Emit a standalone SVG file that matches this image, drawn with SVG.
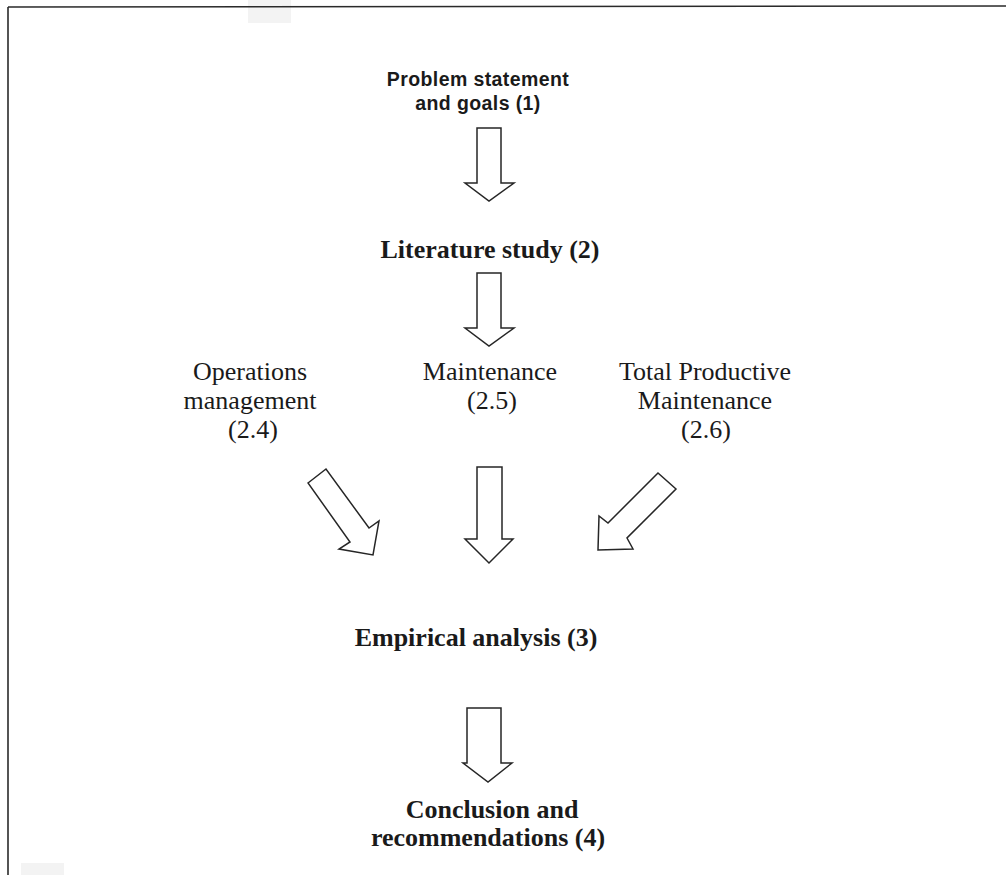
<svg xmlns="http://www.w3.org/2000/svg" width="1006" height="875" viewBox="0 0 1006 875">
  <style>
    .frame { stroke: #2a2a2a; stroke-width: 1.6; fill: none; }
    .arrow { fill: #ffffff; stroke: #262626; stroke-width: 1.5; stroke-linejoin: miter; }
    .sans-b { font-family: "Liberation Sans", Arial, sans-serif; font-weight: bold; font-size: 19.5px; letter-spacing: 0.4px; fill: #1a1a1a; text-anchor: middle; }
    .serif-b { font-family: "Liberation Serif", "Times New Roman", serif; font-weight: bold; font-size: 26px; fill: #1a1a1a; text-anchor: middle; }
    .serif { font-family: "Liberation Serif", "Times New Roman", serif; font-size: 26px; fill: #1a1a1a; text-anchor: middle; }
    .smudge { fill: #f3f3f3; }
  </style>

  <rect width="1006" height="875" fill="#ffffff"/>

  <!-- page frame: top and left edges only -->
  <g id="frame">
    <rect class="smudge" x="248" y="0" width="43" height="23"/>
    <rect class="smudge" x="21" y="863" width="43" height="12"/>
    <line class="frame" x1="8" y1="7" x2="1006" y2="6"/>
    <line class="frame" x1="8" y1="7" x2="8" y2="875"/>
  </g>

  <g id="node-problem">
    <text class="sans-b" x="478" y="86">Problem statement</text>
    <text class="sans-b" x="478" y="110">and goals (1)</text>
  </g>

  <g id="node-literature">
    <text class="serif-b" x="490" y="258">Literature study (2)</text>
  </g>

  <g id="node-operations">
    <text class="serif" x="250" y="380">Operations</text>
    <text class="serif" x="250" y="409">management</text>
    <text class="serif" x="253" y="438">(2.4)</text>
  </g>

  <g id="node-maintenance">
    <text class="serif" x="490" y="380">Maintenance</text>
    <text class="serif" x="492" y="409">(2.5)</text>
  </g>

  <g id="node-tpm">
    <text class="serif" x="705" y="380">Total Productive</text>
    <text class="serif" x="705" y="409">Maintenance</text>
    <text class="serif" x="706" y="438">(2.6)</text>
  </g>

  <g id="node-empirical">
    <text class="serif-b" x="476" y="646">Empirical analysis (3)</text>
  </g>

  <g id="node-conclusion">
    <text class="serif-b" x="492" y="818">Conclusion and</text>
    <text class="serif-b" x="488" y="846">recommendations (4)</text>
  </g>

  <!-- block arrows -->
  <g id="connectors">
    <polygon class="arrow" points="477,128 501,128 501,183 514,183 489,201 465,183 477,183"/>
    <polygon class="arrow" points="477,273 501,273 501,328 514,328 489,346 465,328 477,328"/>
    <polygon class="arrow" points="308,483 326,469 369,528 379,521 373,555 339,549 350,542"/>
    <polygon class="arrow" points="477,467 502,467 502,539 513,539 489,563 465,539 477,539"/>
    <polygon class="arrow" points="658,473 676,489 627,538 633,549 598,550 599,516 608,523"/>
    <polygon class="arrow" points="467,708 501,708 501,763 512,763 488,782 463,763 467,763"/>
  </g>
</svg>
